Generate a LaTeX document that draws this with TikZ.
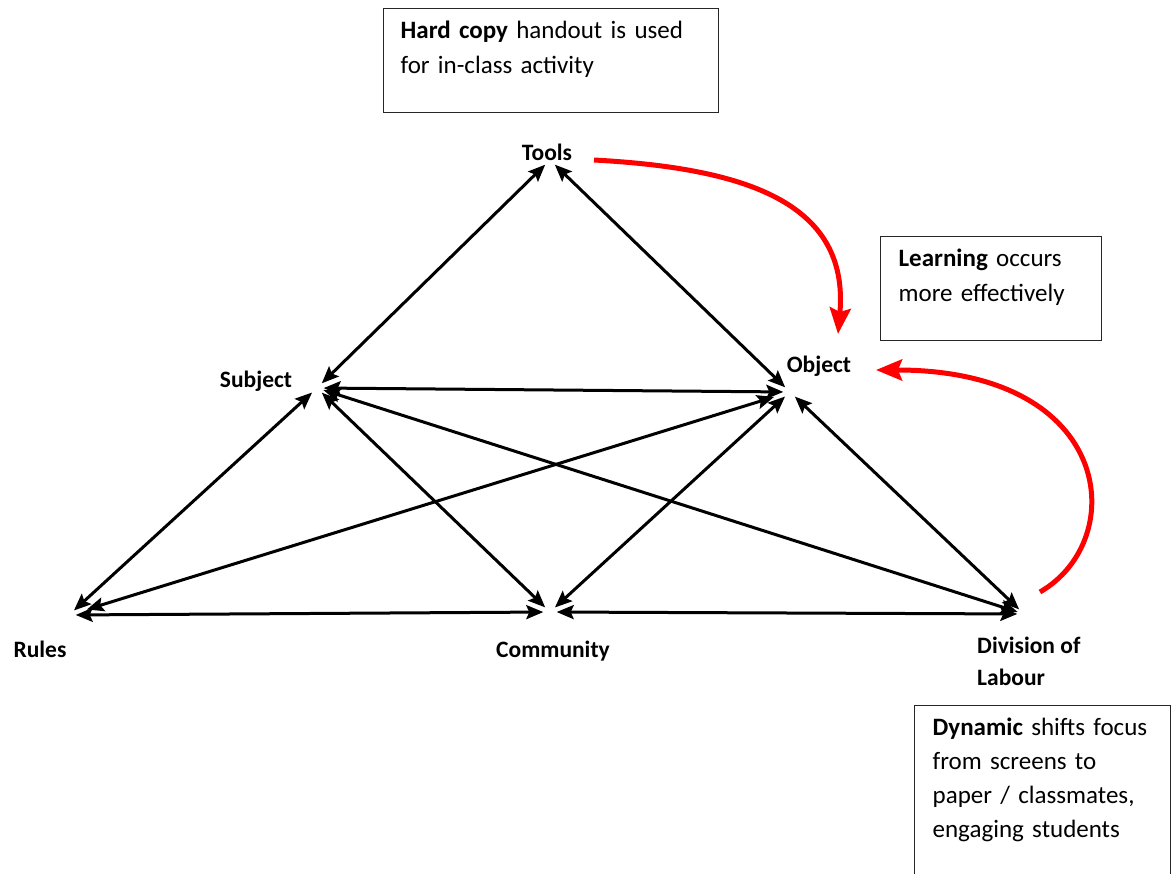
\documentclass[tikz,border=0pt]{standalone}
\usepackage{fontspec}
\setmainfont{Carlito}
\usepackage{tikz}
\usetikzlibrary{arrows.meta, positioning}
\definecolor{NoteGrey}{HTML}{262626}
\definecolor{FlowRed}{HTML}{FF0000}
\tikzset{
  % Box styles
  notebox/.style={rectangle, draw=NoteGrey, line width=1.3pt, anchor=north west, inner xsep=17pt, inner ysep=12pt, align=left, font=\fontsize{25}{35}\selectfont},
  % Label styles
  corner/.style={inner sep=0pt, font=\fontsize{23.5}{32}\selectfont\bfseries},
  vertex/.style={circle, inner sep=0pt, minimum size=13pt},
  % Arrow styles
  link/.style={{Stealth[length=17pt,width=14pt,inset=3pt]}-{Stealth[length=17pt,width=14pt,inset=3pt]}, line width=3pt},
  flow/.style={-{Stealth[length=26pt,width=21pt,inset=4pt]}, line width=5pt, FlowRed}
}

\begin{document}
\begin{tikzpicture}[x=1pt, y=-1pt]
  \useasboundingbox (0,0) rectangle (1176,874);

  % Notes
  \node[notebox, text width=301pt, text depth=62pt] (hardcopy) at (383,8) {\textbf{Hard copy} handout is used\\for in-class activity};
  \node[notebox, text width=185pt, inner xsep=18pt, text depth=62pt] (learning) at (880,236) {\textbf{Learning} occurs\\more effectively};
  \node[notebox, text width=220pt, inner xsep=18pt, text depth=131pt, font=\fontsize{25}{34}\selectfont] (dynamic) at (914,705) {\textbf{Dynamic} shifts focus\\from screens to\\paper / classmates,\\engaging students};

  % Corner labels
  \node[corner] (tools) at (547,152) {Tools};
  \node[corner] (subject) at (256,381) {Subject};
  \node[corner] (object) at (819,366) {Object};
  \node[corner] (rules) at (40,649) {Rules};
  \node[corner] (community) at (553,651) {Community};
  \node[corner, align=left, anchor=west] (division) at (977,661) {Division of\\Labour};

  % Meeting points of the arrows
  \node[vertex] (tv) at (550,160) {};
  \node[vertex] (sv) at (317,388) {};
  \node[vertex] (ov) at (790,392) {};
  \node[vertex] (rv) at (69,615) {};
  \node[vertex] (cv) at (550,612) {};
  \node[vertex] (dv) at (1024,614) {};

  % Arrows
  \draw[link] (tv) -- (sv);
  \draw[link] (tv) -- (ov);
  \draw[link] (sv) -- (ov);
  \draw[link] (sv) -- (rv);
  \draw[link] (sv) -- (cv);
  \draw[link] (sv) -- (dv);
  \draw[link, shorten <=10pt, shorten >=12pt] (ov) -- (rv);
  \draw[link] (ov) -- (cv);
  \draw[link] (ov) -- (dv);
  \draw[link] (rv) -- (cv);
  \draw[link] (cv) -- (dv);

  % Red arrows
  \coordinate (toolsout) at (594,160);
  \coordinate (objecttop) at (838,334);
  \coordinate (divisionout) at (1040,592);
  \coordinate (objectright) at (876,370);
  \draw[flow] (toolsout) .. controls (740,168) and (850,200) .. (objecttop);
  \draw[flow] (divisionout) .. controls (1130,540) and (1115,370) .. (objectright);
\end{tikzpicture}
\end{document}
